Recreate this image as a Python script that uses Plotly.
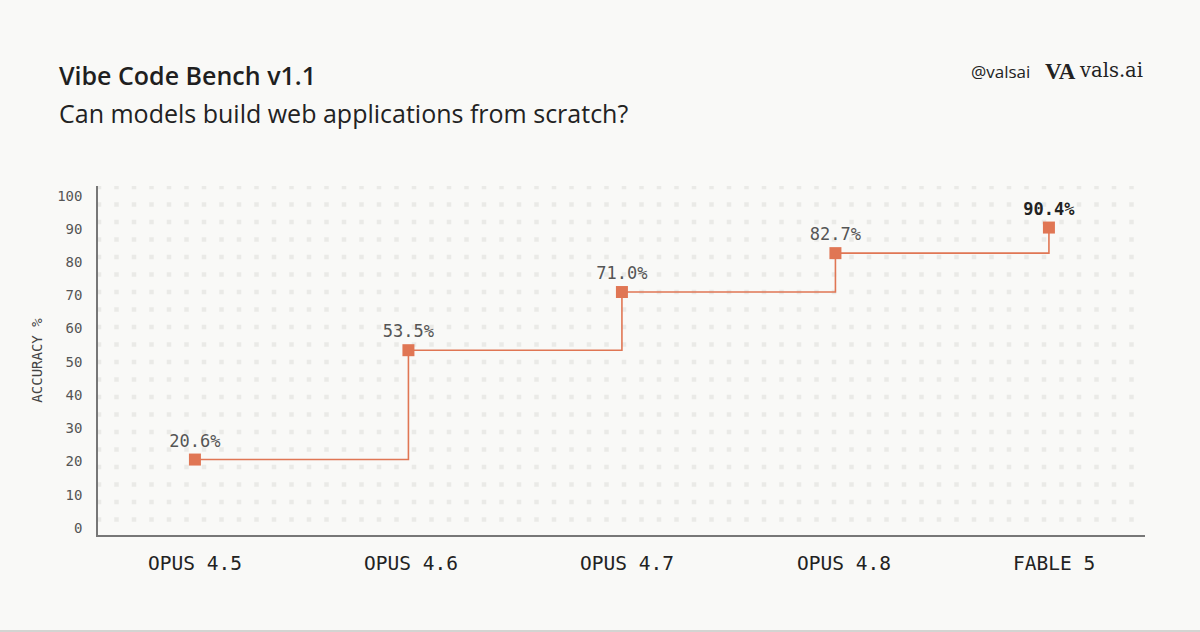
import numpy as np
import plotly.graph_objects as go

# ---- data ----
models = ["OPUS 4.5", "OPUS 4.6", "OPUS 4.7", "OPUS 4.8", "FABLE 5"]
accuracy = [20.6, 53.5, 71.0, 82.7, 90.4]
labels = ["20.6%", "53.5%", "71.0%", "82.7%", "<b>90.4%</b>"]
y_ticks = [0, 10, 20, 30, 40, 50, 60, 70, 80, 90, 100]

W, H = 1200, 632
L, R, T, B = 98, 55, 186, 97
pw, ph = W - L - R, H - T - B
XR = [-0.454, 4.45]
XR_LABELS = [-0.222, 4.620]   # band-style scale used for the category labels
YR = [-2.1, 102.9]

BG = "#f9f9f7"
ORANGE = "#e07654"
MONO = "DejaVu Sans Mono"
SANS = "Open Sans"

def px2x(px):
    return XR[0] + (px - L) / pw * (XR[1] - XR[0])

def py2y(py):
    return YR[1] - (py - T) / ph * (YR[1] - YR[0])

def ppx(px):
    return (px - L) / pw

def ppy(py):
    return 1 - (py - T) / ph

xi = list(range(len(models)))

fig = go.Figure()

# dotted background pattern
gx, gy = np.meshgrid(99 + 17.5 * np.arange(60), 187 + 17.5 * np.arange(20))
fig.add_trace(go.Scatter(
    x=px2x(gx.ravel()), y=py2y(gy.ravel()), mode="markers",
    marker=dict(symbol="square", size=4.5, color="#eaeae7", line=dict(width=0)),
    hoverinfo="skip", showlegend=False))

# step line
fig.add_trace(go.Scatter(
    x=xi, y=accuracy, mode="lines", line=dict(shape="hv", color=ORANGE, width=1.6),
    hoverinfo="skip", showlegend=False))

# markers + labels
fig.add_trace(go.Scatter(
    x=xi, y=accuracy, mode="markers+text", text=labels, textposition="top center",
    textfont=dict(family=MONO, size=17, color=["#555"] * 4 + ["#222"]),
    marker=dict(symbol="square", size=12, color=ORANGE, line=dict(width=0)),
    showlegend=False))

# invisible trace on the label axis so it is laid out
fig.add_trace(go.Scatter(x=xi, y=accuracy, xaxis="x2", mode="markers",
                         marker=dict(opacity=0), hoverinfo="skip", showlegend=False))

annotations = [
    dict(text="Vibe Code Bench v1.1", x=ppx(57), y=ppy(75), xref="paper", yref="paper",
         xanchor="left", yanchor="middle", showarrow=False,
         font=dict(family=SANS, size=25, weight=600, color="#1f1f1f")),
    dict(text="Can models build web applications from scratch?", x=ppx(57), y=ppy(113),
         xref="paper", yref="paper", xanchor="left", yanchor="middle", showarrow=False,
         font=dict(family=SANS, size=25, color="#222")),
    dict(text="@valsai", x=ppx(1032), y=ppy(71), xref="paper", yref="paper",
         xanchor="right", yanchor="middle", showarrow=False,
         font=dict(family=SANS, size=17, color="#222")),
    dict(text="<b>VA</b>", x=ppx(1043), y=ppy(71), xref="paper", yref="paper",
         xanchor="left", yanchor="middle", showarrow=False,
         font=dict(family="Liberation Serif", size=23, color="#222")),
    dict(text="vals.ai", x=ppx(1077), y=ppy(70), xref="paper", yref="paper",
         xanchor="left", yanchor="middle", showarrow=False,
         font=dict(family="DejaVu Serif", size=19.5, color="#222")),
]
for i, m in zip(xi, models):
    annotations.append(dict(text=m, x=i, xref="x2", y=ppy(563), yref="paper",
                            xanchor="left", yanchor="middle", showarrow=False,
                            font=dict(family=MONO, size=19.5, color="#222")))

fig.update_layout(
    width=W, height=H, margin=dict(l=L, r=R, t=T, b=B),
    paper_bgcolor=BG, plot_bgcolor=BG,
    xaxis=dict(range=XR, tickmode="array", tickvals=xi, ticktext=[""] * len(xi),
               showgrid=False, zeroline=False, showline=True, linecolor="#777", linewidth=1.5,
               ticks=""),
    xaxis2=dict(range=XR_LABELS, overlaying="x", anchor="y", visible=False),
    yaxis=dict(range=YR, tickmode="array", tickvals=y_ticks,
               showgrid=False, zeroline=False, showline=True, linecolor="#777", linewidth=1.5,
               ticks="", ticklabelstandoff=11,
               tickfont=dict(family=MONO, size=14, color="#555"),
               title=dict(text="ACCURACY %", font=dict(family=MONO, size=14, color="#444"),
                          standoff=11)),
    annotations=annotations,
    shapes=[dict(type="line", xref="paper", yref="paper", x0=ppx(0), x1=ppx(W),
                 y0=ppy(631), y1=ppy(631), line=dict(color="#d4d4d2", width=2))],
)

fig.write_html("out.html", config={"displayModeBar": False},
               post_script="document.body.style.margin='0';")
